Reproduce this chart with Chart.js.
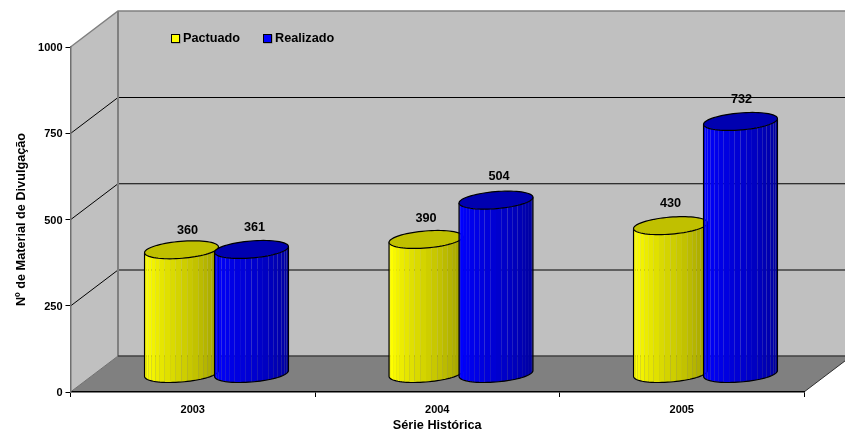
<!DOCTYPE html>
<html lang="pt">
<head>
<meta charset="utf-8">
<title>Material de Divulgação</title>
<style>
  html, body { margin: 0; padding: 0; background: #fff; }
  canvas { display: block; }
</style>
</head>
<body>
<canvas id="chart" width="845" height="435"></canvas>
<script src="https://cdn.jsdelivr.net/npm/chart.js@4"></script>
<script>
// -- data ---------------------------------------------------------------

const years = ['2003', '2004', '2005'];
const pactuado = [360, 390, 430];
const realizado = [361, 504, 732];
const yTicks = [0, 250, 500, 750, 1000];

// hand-moved value labels (dx, dy from the default spot), one per point
const pactuadoNudge = [[6, 3], [0, 1], [0, 0]];
const realizadoNudge = [[3, 0], [3, -2], [1, 0]];

// -- look ---------------------------------------------------------------

const FONT = "'Liberation Sans', Arial, sans-serif";
const DEPTH_X = 47.5;   // floor depth, projected
const DEPTH_Y = 36;
const FACETS = 20;
const LABEL_GAP = 22;

const C = {
  wall:  '#C0C0C0',
  floor: '#808080',
  edge:  '#808080',
  grid:  '#000000',
};

const SKINS = [
  { rgb: [255, 255, 0], top: '#C0C000', name: 'Pactuado', nudge: pactuadoNudge },
  { rgb: [0, 0, 255],   top: '#0000B0', name: 'Realizado', nudge: realizadoNudge },
];

// -- 3D box behind the bars -----------------------------------------------

function line(ctx, pts, color, width) {
  ctx.beginPath();
  pts.forEach(function(p, i) { i ? ctx.lineTo(p[0], p[1]) : ctx.moveTo(p[0], p[1]); });
  ctx.strokeStyle = color;
  ctx.lineWidth = width;
  ctx.stroke();
}

function poly(ctx, pts, fill) {
  ctx.beginPath();
  pts.forEach(function(p, i) { i ? ctx.lineTo(p[0], p[1]) : ctx.moveTo(p[0], p[1]); });
  ctx.closePath();
  ctx.fillStyle = fill;
  ctx.fill();
}

function drawBox(chart) {
  const ctx = chart.ctx;
  const a = chart.chartArea;
  const y = chart.scales.y;
  const bl = a.left + DEPTH_X;
  const br = a.right + DEPTH_X;
  const bt = a.top - DEPTH_Y;
  const bb = a.bottom - DEPTH_Y;

  poly(ctx, [[a.left, a.top], [bl, bt], [br, bt], [br, bb], [bl, bb], [a.left, a.bottom]], C.wall);
  poly(ctx, [[a.left, a.bottom], [bl, bb], [br, bb], [a.right, a.bottom]], C.floor);

  yTicks.slice(1, -1).forEach(function(v) {
    const py = y.getPixelForValue(v) + 0.25;
    line(ctx, [[a.left, py], [bl, py - DEPTH_Y], [br, py - DEPTH_Y]], C.grid, 1);
  });

  line(ctx, [[a.left, a.top], [bl, bt], [br, bt]], C.edge, 1.5);
  line(ctx, [[bl, bt], [bl, bb]], C.edge, 2);
  line(ctx, [[a.left, a.bottom], [bl, bb]], '#707070', 1);
  line(ctx, [[bl, bb], [br, bb]], '#404040', 1.5);
  line(ctx, [[a.right, a.bottom], [br, bb]], '#303030', 1);
}

// -- cylinders --------------------------------------------------------------

function rimPoint(cx, cy, rx, t) {
  const s = Math.sin(t);
  return [cx + rx * Math.cos(t) + (DEPTH_X / 4) * s, cy - (DEPTH_Y / 4) * s];
}

function shade(rgb, u) {
  const k = u < 0.12 ? 1 : 1 - 0.42 * (u - 0.12) / 0.88;
  return 'rgb(' + rgb.map(function(c) { return Math.round(c * k); }).join(',') + ')';
}

function drawCylinder(ctx, el, skin) {
  const rx = el.width / 2;
  const cx = el.x + DEPTH_X / 2;
  const top = el.y - DEPTH_Y / 2;
  const base = el.base - DEPTH_Y / 2;
  const t0 = Math.atan((DEPTH_X / 4) / rx);   // silhouette tangents
  const start = t0 + Math.PI;
  const step = Math.PI / FACETS;

  for (let i = 0; i < FACETS; i++) {
    const a1 = start + i * step;
    const a2 = a1 + step;
    poly(ctx, [rimPoint(cx, top, rx, a1), rimPoint(cx, top, rx, a2),
               rimPoint(cx, base, rx, a2), rimPoint(cx, base, rx, a1)],
         shade(skin.rgb, (i + 0.5) / FACETS));
  }

  const front = [];
  for (let i = 0; i <= FACETS * 2; i++) front.push(rimPoint(cx, base, rx, start + i * step / 2));
  line(ctx, [rimPoint(cx, top, rx, start)].concat(front, [rimPoint(cx, top, rx, t0)]), '#000', 1.2);

  const rim = [];
  for (let i = 0; i < 72; i++) rim.push(rimPoint(cx, top, rx, i * Math.PI / 36));
  poly(ctx, rim, skin.top);
  line(ctx, rim.concat([rim[0]]), '#000', 1.2);
}

function drawLegend(ctx) {
  const items = [[171, 183], [263, 275]];
  items.forEach(function(it, i) {
    ctx.fillStyle = '#808080';
    ctx.fillRect(it[0] + 0.5, 34.5, 9, 9);
    ctx.fillStyle = 'rgb(' + SKINS[i].rgb.join(',') + ')';
    ctx.fillRect(it[0], 34, 8, 8);
    ctx.strokeStyle = '#000';
    ctx.lineWidth = 1;
    ctx.strokeRect(it[0] + 0.5, 34.5, 8, 8);
    ctx.fillStyle = '#000';
    ctx.font = 'bold 12.7px ' + FONT;
    ctx.textAlign = 'left';
    ctx.textBaseline = 'middle';
    ctx.fillText(SKINS[i].name, it[1], 38.5);
  });
}

const cylinders3d = {
  id: 'cylinders3d',
  beforeDraw: drawBox,
  afterDatasetsDraw(chart) {
    const ctx = chart.ctx;
    const metas = [chart.getDatasetMeta(0), chart.getDatasetMeta(1)];

    years.forEach(function(_, j) {
      metas.forEach(function(m, i) { drawCylinder(ctx, m.data[j], SKINS[i]); });
    });

    ctx.fillStyle = '#000';
    ctx.font = 'bold 12.7px ' + FONT;
    ctx.textAlign = 'center';
    ctx.textBaseline = 'middle';
    metas.forEach(function(m, i) {
      m.data.forEach(function(el, j) {
        const n = SKINS[i].nudge[j];
        const v = chart.data.datasets[i].data[j];
        ctx.fillText(String(v), el.x + DEPTH_X / 2 + n[0], el.y - DEPTH_Y / 2 - LABEL_GAP + n[1]);
      });
    });

    drawLegend(ctx);
  },
};

// -- chart ------------------------------------------------------------------

new Chart(document.getElementById('chart'), {
  type: 'bar',
  data: {
    labels: years,
    datasets: [
      { label: 'Pactuado', data: pactuado, backgroundColor: 'transparent' },
      { label: 'Realizado', data: realizado, backgroundColor: 'transparent' },
    ],
  },
  options: {
    responsive: false,
    animation: false,
    layout: { padding: { top: 47, right: 41, left: 0, bottom: 0 } },
    barPercentage: 1,
    categoryPercentage: 0.5726,
    plugins: { legend: { display: false }, tooltip: { enabled: false } },
    scales: {
      x: {
        afterFit(s) { s.height = 43; },
        grid: { drawOnChartArea: false, tickLength: 5, tickColor: '#000' },
        border: { color: '#000', width: 1.5 },
        ticks: { color: '#000', font: { family: FONT, size: 11, weight: 'bold' }, padding: 6, maxRotation: 0 },
        title: {
          display: true,
          text: 'Série Histórica',
          color: '#000',
          font: { family: FONT, size: 12.7, weight: 'bold' },
          padding: { top: 1, bottom: 2 },
        },
      },
      y: {
        min: 0,
        max: 1000,
        afterFit(s) { s.width = 70.5; },
        afterBuildTicks(s) { s.ticks = yTicks.map(function(v) { return { value: v }; }); },
        grid: { drawOnChartArea: false, tickLength: 5, tickColor: '#000' },
        border: { color: '#707070', width: 1.5 },
        ticks: {
          color: '#000',
          font: { family: FONT, size: 11, weight: 'bold' },
          padding: 3,
          labelOffset: 1,
          callback(v) { return String(v); },
        },
        title: {
          display: true,
          text: 'Nº de Material de Divulgação',
          color: '#000',
          font: { family: FONT, size: 12.7, weight: 'bold' },
          padding: { top: 14, bottom: 0 },
        },
      },
    },
  },
  plugins: [cylinders3d],
});
</script>
</body>
</html>
